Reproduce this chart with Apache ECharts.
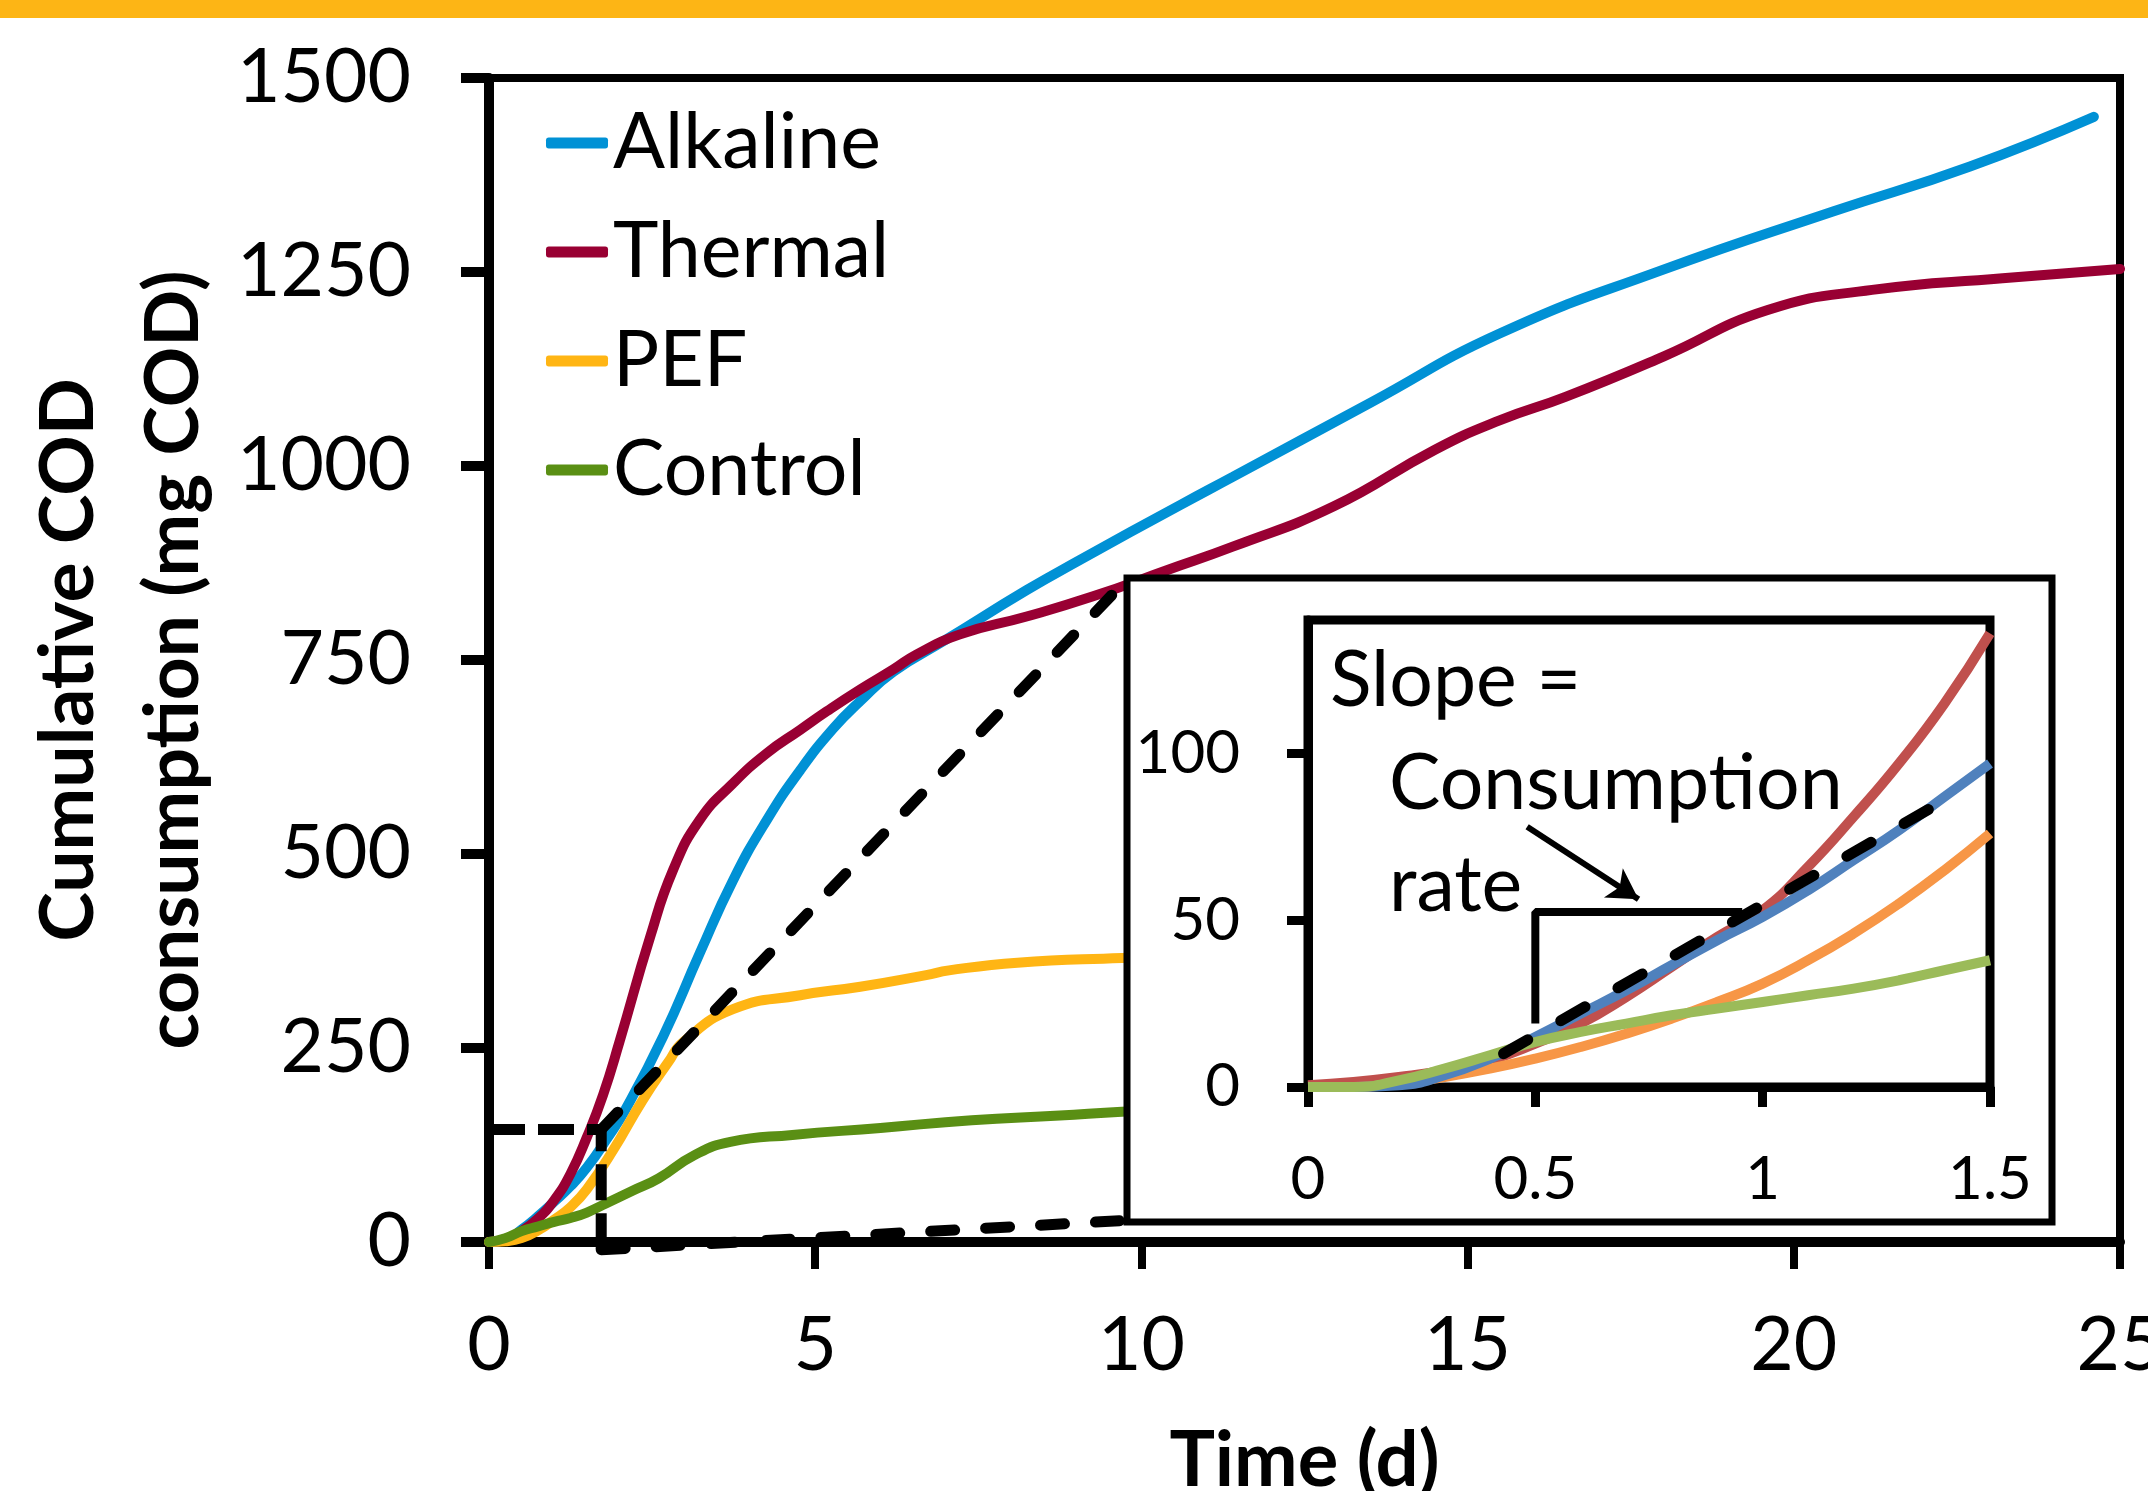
<!DOCTYPE html>
<html>
<head>
<meta charset="utf-8">
<script src="https://cdn.jsdelivr.net/npm/echarts@6/dist/echarts.min.js"></script>
<style>
    html, body { margin: 0; background: #fff; }
    #chrt_cod { width: 2148px; height: 1491px; }
</style>
</head>
<body>
<div id="chrt_cod"></div>
<script>
// main plot: time (d) vs cumulative COD consumption (mg COD)
const alkalineT   = [0, 0.25, 0.5, 0.75, 1, 1.25, 1.5, 1.8, 2.1, 2.67, 3.23, 3.74, 4.26, 4.77, 5.28, 5.69, 6.2, 7, 8.24, 9.06, 10.6, 11.4, 13.5, 15.5, 18, 20.6, 22.7, 24.6]
const alkalineCod = [0, 2, 16, 33, 52, 72, 96, 132, 172, 265, 372, 466, 544, 608, 662, 697, 735, 776, 840, 879, 950, 986, 1081, 1171, 1253, 1328, 1386, 1450]

const thermalT    = [0, 0.25, 0.5, 0.75, 1, 1.25, 1.5, 1.75, 2, 2.47, 2.82, 3.23, 3.74, 4.26, 4.77, 5.18, 5.69, 6.2, 6.55, 7.22, 8.24, 9.26, 10.4, 11.4, 12.95, 14.5, 15.5, 16.5, 18, 19.6, 21.2, 23.2, 25]
const thermalCod  = [0, 4, 14, 30, 54, 88, 135, 190, 258, 393, 479, 544, 591, 630, 660, 684, 712, 738, 757, 783, 806, 832, 866, 896, 948, 1021, 1059, 1089, 1141, 1201, 1227, 1242, 1254]

const pefT        = [0, 0.25, 0.5, 0.75, 1, 1.25, 1.5, 1.9, 2.35, 2.75, 2.98, 3.74, 4.77, 5.69, 6.7, 7.05, 8.1, 9.7, 10.5]
const pefCod      = [0, 1, 5, 15, 29, 45, 68, 118, 182, 232, 258, 300, 318, 329, 344, 350, 360, 366, 368]

const controlT    = [0, 0.25, 0.5, 0.75, 1, 1.25, 1.5, 1.8, 2.2, 2.6, 3.15, 3.7, 4.65, 6, 7.4, 8.75, 9.7, 10.5]
const controlCod  = [0, 5, 14, 20, 26, 31, 38, 50, 66, 82, 112, 129, 138, 147, 157, 163, 168, 170]

// inset: first 1.5 days
const insetT        = [0, 0.1, 0.2, 0.3, 0.4, 0.5, 0.6, 0.7, 0.8, 0.9, 1.0, 1.1, 1.2, 1.3, 1.4, 1.5]
const insetThermal  = [0.5, 1.5, 3, 5, 8, 13, 19, 27, 36, 45, 53, 66, 81, 97, 115, 136]
const insetAlkaline = [0, 0, 0.5, 3.5, 8.5, 15, 22, 29, 36.5, 44, 51, 59, 68, 77, 87, 97]
const insetPef      = [0, 0, 1, 3, 5.5, 8.5, 12, 16, 20.5, 25.5, 31, 38, 46, 55, 65, 76]
const insetControl  = [0, 0, 2, 5.5, 9.5, 13.5, 16.5, 19, 21.5, 23.5, 25.5, 27.5, 29.5, 32, 35, 38]

// annotation lines (data units)
const zoomBox     = [[0, 145], [1.72, 145], [1.72, -10]]
const linkTop     = [[1.72, 145], [9.8, 856]]
const linkBottom  = [[1.72, -10], [9.8, 28]]
const slopeLine   = [[0.43, 10], [1.4, 86]]
const slopeStep   = [[0.5, 19], [0.5, 52.5], [0.955, 52.5]]
const arrowFrom   = [0.482, 78]
const arrowTo     = [0.727, 56.3]

const legendNames = ['Alkaline', 'Thermal', 'PEF', 'Control']
const colors  = { Alkaline: '#0091d5', Thermal: '#990033', PEF: '#ffb514', Control: '#5a8f14' }
const icolors = { Alkaline: '#4f81bd', Thermal: '#c0504d', PEF: '#f79646', Control: '#9bbb59' }

const font = 'Lato, "Open Sans", sans-serif'
const zip = (xs, ys) => xs.map((x, i) => [x, ys[i]])
const plain = v => String(v)   // no thousands separator

function mainLine(name, data) {
    return {
        name, type: 'line', data, xAxisIndex: 0, yAxisIndex: 0,
        symbol: 'none', smooth: 0.5, z: 2,
        lineStyle: { width: 10, color: colors[name], cap: 'round' },
        itemStyle: { color: colors[name] }
    }
}
function insetLine(key, data) {
    return {
        type: 'line', data, xAxisIndex: 1, yAxisIndex: 1,
        symbol: 'none', smooth: 0.5, z: 22,
        lineStyle: { width: 10, color: icolors[key] }
    }
}
function dashed(data, dash, cap, axis, z) {
    return {
        type: 'line', data, xAxisIndex: axis, yAxisIndex: axis,
        symbol: 'none', clip: false, z: z,
        lineStyle: { width: 11, color: '#000', type: dash, cap: cap }
    }
}

const chart = echarts.init(document.getElementById('chrt_cod'))
chart.setOption({
    animation: false,
    backgroundColor: '#fff',
    textStyle: { fontFamily: font, color: '#000' },
    legend: {
        data: legendNames, orient: 'vertical', left: 546, top: 103, padding: 0,
        itemGap: 29, itemWidth: 62, itemHeight: 11, icon: 'roundRect',
        textStyle: { fontSize: 77, lineHeight: 80, color: '#000', fontFamily: font }
    },
    grid: [
        { left: 489, right: 28, top: 78, bottom: 249, show: true, borderColor: '#000', borderWidth: 8, outerBoundsMode: 'none' },
        { left: 1308, right: 158, top: 620, bottom: 404, show: true, borderColor: '#000', borderWidth: 9, z: 20, outerBoundsMode: 'none' }
    ],
    xAxis: [
        {
            type: 'value', gridIndex: 0, min: 0, max: 25, interval: 5,
            axisLine: { show: true, onZero: false, lineStyle: { color: '#000', width: 10 } },
            axisTick: { show: true, length: 27, lineStyle: { color: '#000', width: 8 } },
            axisLabel: { fontSize: 75, color: '#000', margin: 66, fontFamily: font, formatter: plain },
            splitLine: { show: false },
            name: 'Time (d)', nameLocation: 'middle', nameGap: 181,
            nameTextStyle: { fontSize: 76, fontWeight: 'bold', color: '#000', fontFamily: font }
        },
        {
            type: 'value', gridIndex: 1, min: 0, max: 1.5, interval: 0.5, z: 21,
            axisLine: { show: true, onZero: false, lineStyle: { color: '#000', width: 9 } },
            axisTick: { show: true, length: 20, lineStyle: { color: '#000', width: 9 } },
            axisLabel: { fontSize: 60, color: '#000', margin: 63, fontFamily: font, formatter: plain },
            splitLine: { show: false }
        }
    ],
    yAxis: [
        {
            type: 'value', gridIndex: 0, min: 0, max: 1500, interval: 250,
            axisLine: { show: true, onZero: false, lineStyle: { color: '#000', width: 10 } },
            axisTick: { show: true, length: 28, lineStyle: { color: '#000', width: 10 } },
            axisLabel: { fontSize: 75, color: '#000', margin: 78, fontFamily: font, formatter: plain },
            splitLine: { show: false },
            name: 'Cumulative COD\nconsumption (mg COD)', nameLocation: 'middle', nameRotate: 90, nameGap: 258,
            nameTextStyle: { fontSize: 75, fontWeight: 'bold', lineHeight: 105, color: '#000', fontFamily: font }
        },
        {
            type: 'value', gridIndex: 1, min: 0, max: 140, interval: 50, z: 21,
            axisLine: { show: true, onZero: false, lineStyle: { color: '#000', width: 9 } },
            axisTick: { show: true, length: 21, customValues: [0, 50, 100], lineStyle: { color: '#000', width: 9 } },
            axisLabel: { fontSize: 60, color: '#000', margin: 68, customValues: [0, 50, 100], fontFamily: font, formatter: plain },
            splitLine: { show: false }
        }
    ],
    graphic: [
        { type: 'rect', z: 30, shape: { x: 0, y: 0, width: 2148, height: 18 }, style: { fill: '#fdb515' } },
        { type: 'rect', z: 10, shape: { x: 1127, y: 578, width: 925, height: 644 }, style: { fill: '#fff', stroke: '#000', lineWidth: 7 } },
        { type: 'text', z: 30, x: 1330, y: 681, style: { text: 'Slope =', font: '77px ' + font, fill: '#000', verticalAlign: 'middle' } },
        { type: 'text', z: 30, x: 1389, y: 784, style: { text: 'Consumption', font: '77px ' + font, fill: '#000', verticalAlign: 'middle' } },
        { type: 'text', z: 30, x: 1389, y: 886, style: { text: 'rate', font: '77px ' + font, fill: '#000', verticalAlign: 'middle' } }
    ],
    series: [
        mainLine('Alkaline', zip(alkalineT, alkalineCod)),
        mainLine('Thermal', zip(thermalT, thermalCod)),
        mainLine('PEF', zip(pefT, pefCod)),
        mainLine('Control', zip(controlT, controlCod)),
        dashed(zoomBox, [36, 13], 'butt', 0, 3),
        dashed(linkTop, [24, 31], 'round', 0, 3),
        dashed(linkBottom, [24, 31], 'round', 0, 3),

        insetLine('Thermal', zip(insetT, insetThermal)),
        insetLine('PEF', zip(insetT, insetPef)),
        insetLine('Alkaline', zip(insetT, insetAlkaline)),
        insetLine('Control', zip(insetT, insetControl)),
        dashed(slopeLine, [28, 38], 'round', 1, 23),
        {
            type: 'line', data: slopeStep, xAxisIndex: 1, yAxisIndex: 1, symbol: 'none', z: 23,
            lineStyle: { width: 8, color: '#000' },
            markLine: {
                silent: true, z: 24, symbol: [ 'none', 'arrow' ], symbolSize: [ 26, 30 ],
                label: { show: false }, lineStyle: { color: '#000', width: 6, type: 'solid' },
                data: [ [ { coord: arrowFrom }, { coord: arrowTo } ] ]
            }
        }
    ]
})
</script>
</body>
</html>
